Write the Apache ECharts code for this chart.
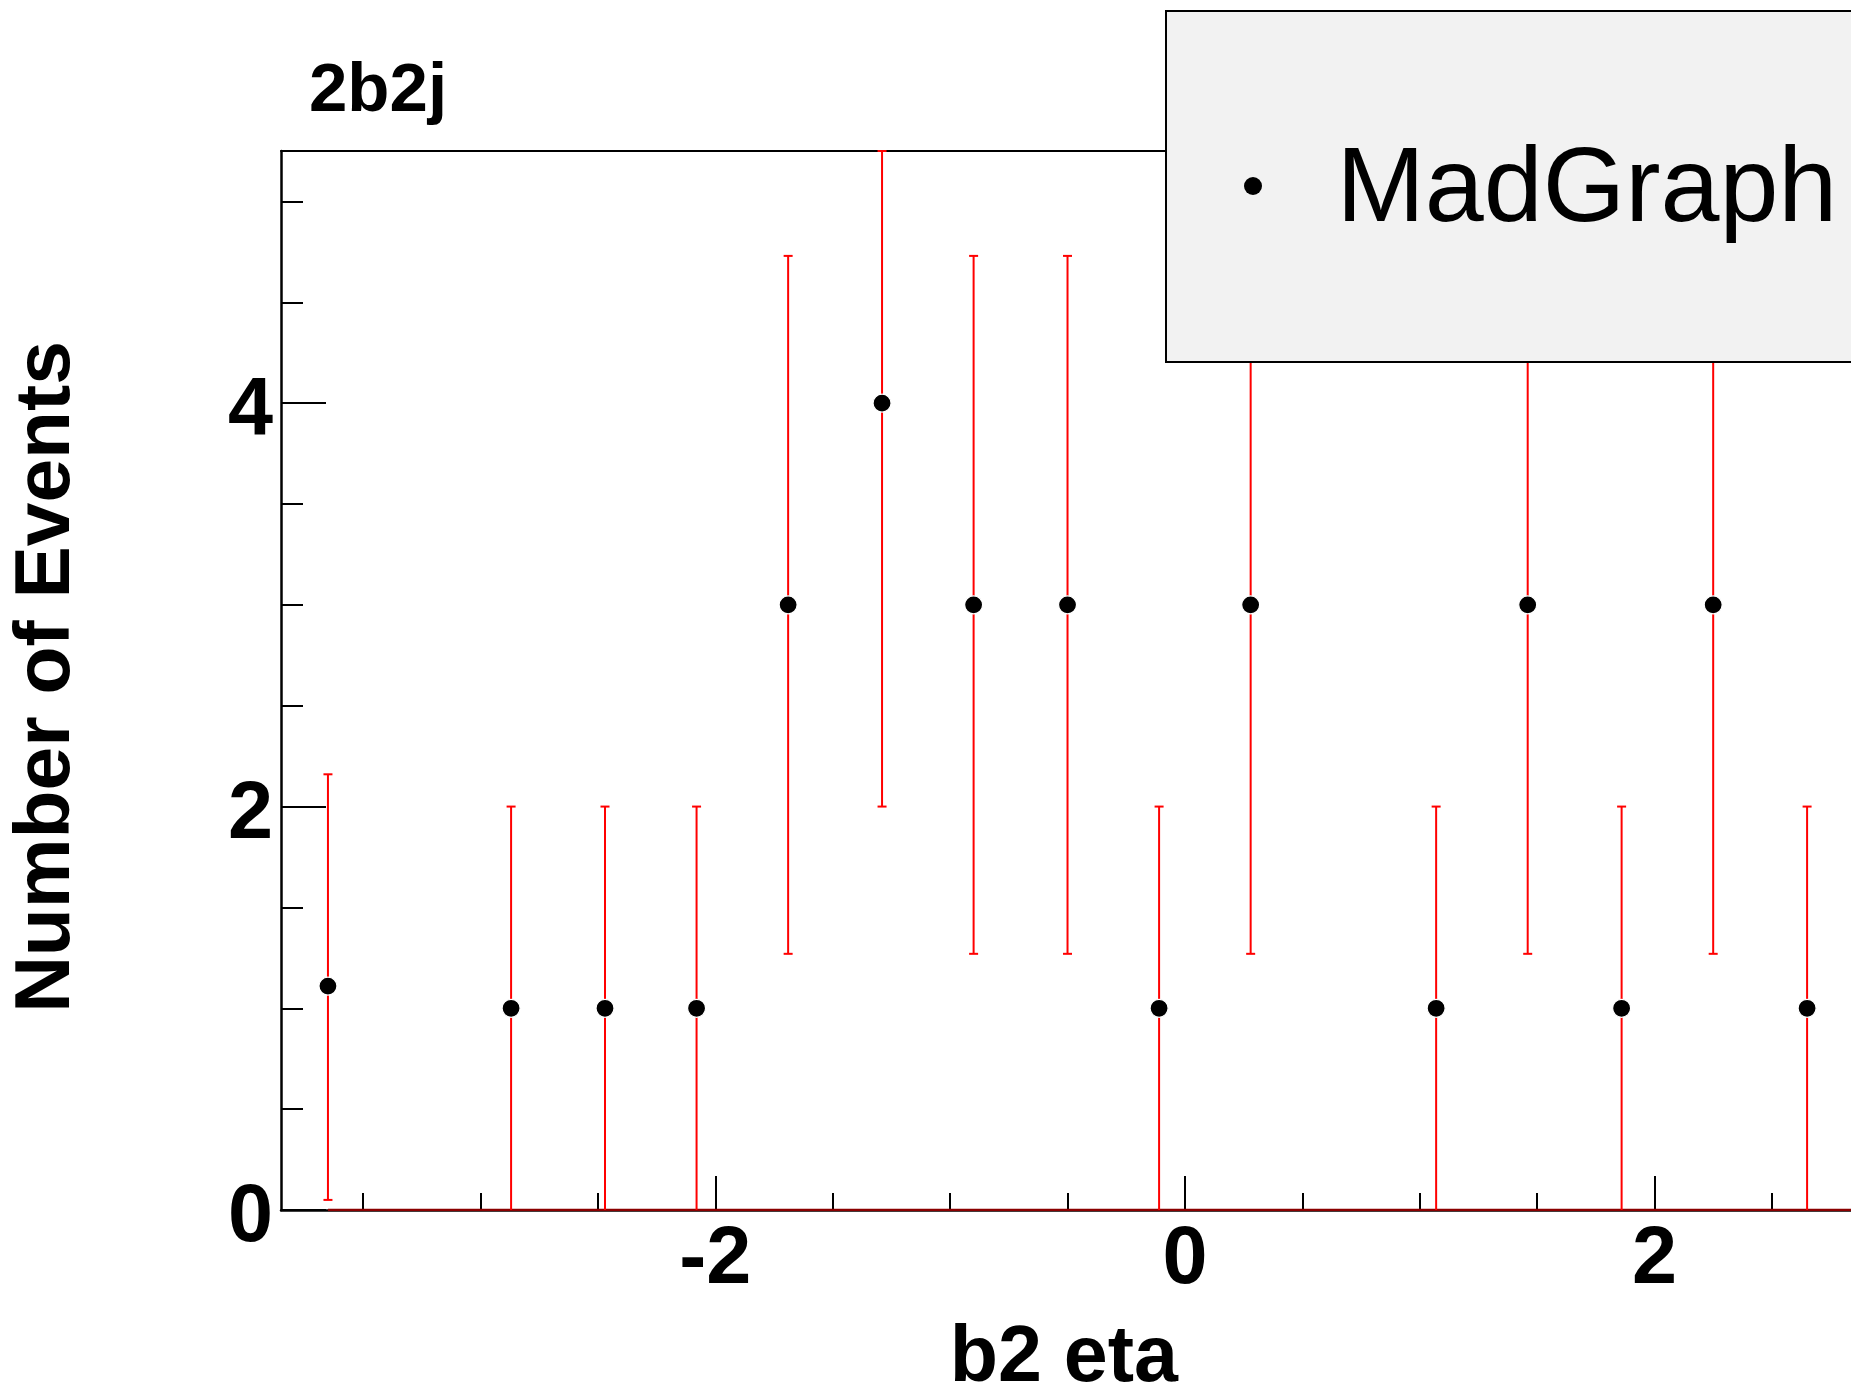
<!DOCTYPE html>
<html><head><meta charset="utf-8">
<script src="https://cdn.jsdelivr.net/npm/echarts@6/dist/echarts.min.js"></script>
<style>html,body{margin:0;padding:0;background:#fff}#c{width:1851px;height:1394px}</style>
</head><body><div id="c"></div>
<script>
// ---- data ----
const binCenters = [-3.65, -2.87, -2.47, -2.08, -1.69, -1.29, -0.90, -0.50, -0.11, 0.28, 1.07, 1.46, 1.86, 2.25, 2.65];
const eventCounts = [1.11, 1, 1, 1, 3, 4, 3, 3, 1, 3, 1, 3, 1, 3, 1];
const errLow  = [0.05, 0, 0, 0, 1.27, 2, 1.27, 1.27, 0, 1.27, 0, 1.27, 0, 1.27, 0];
const errHigh = [2.16, 2, 2, 2, 4.73, 6, 4.73, 4.73, 2, 4.73, 2, 4.73, 2, 4.73, 2];
const xRange = [-3.85, 2.837];
const yRange = [0, 5.25];
const xMajorTicks = [-2, 0, 2];
const xMinorTicks = [-3.5, -3, -2.5, -1.5, -1, -0.5, 0.5, 1, 1.5, 2.5];
const yMajorTicks = [0, 2, 4];
const yMinorTicks = [0.5, 1, 1.5, 2.5, 3, 3.5, 4.5, 5];
const seriesName = 'MadGraph';
const chartTitle = '2b2j';
const xTitle = 'b2 eta';
const yTitle = 'Number of Events';

const FONT = '"Liberation Sans", Arial, Helvetica, sans-serif';
const chart = echarts.init(document.getElementById('c'), null, {renderer: 'canvas'});

const pointData = binCenters.map((x, i) => [x, eventCounts[i]]);
const errData = binCenters.map((x, i) => [x, errLow[i], errHigh[i]]);
const zeroLine = [[binCenters[0], 0], [xRange[1], 0]];

// legend dot sits slightly above the text centre, as in the reference
const legendDot = 'path://M9 0A9 9 0 1 1 9 18A9 9 0 1 1 9 0ZM9 30';

const option = {
  animation: false,
  backgroundColor: '#fff',
  title: {
    text: chartTitle, left: 309, top: 57, padding: 0,
    textStyle: {fontSize: 69, fontWeight: 'bold', fontFamily: FONT, color: '#000', lineHeight: 69}
  },
  legend: {
    left: 1166, top: 11,
    data: [{name: seriesName, icon: legendDot}],
    itemWidth: 157, itemHeight: 30,
    padding: [121, 560, 110, 78],
    backgroundColor: '#f2f2f2', borderColor: '#000', borderWidth: 2, borderRadius: 0,
    textStyle: {fontSize: 106, fontFamily: FONT, color: '#000', lineHeight: 120},
    itemStyle: {borderWidth: 0, color: '#000', opacity: 1},
    selectedMode: false
  },
  grid: {
    left: 281, top: 151, right: 0, height: 1059,
    show: false, containLabel: false
  },
  xAxis: [
    {
      type: 'value', min: xRange[0], max: xRange[1], position: 'bottom',
      axisLine: {show: true, onZero: false, lineStyle: {color: '#000', width: 2.5}},
      axisTick: {show: true, inside: true, length: 34, customValues: xMajorTicks, lineStyle: {color: '#000', width: 2}},
      axisLabel: {show: true, customValues: xMajorTicks, margin: 10, fontSize: 81, fontWeight: 'bold', fontFamily: FONT, color: '#000'},
      splitLine: {show: false}
    },
    {
      type: 'value', min: xRange[0], max: xRange[1], position: 'bottom',
      axisLine: {show: false, onZero: false},
      axisTick: {show: true, inside: true, length: 17, customValues: xMinorTicks, lineStyle: {color: '#000', width: 2}},
      axisLabel: {show: false},
      splitLine: {show: false}
    },
    {
      type: 'value', min: xRange[0], max: xRange[1], position: 'top',
      axisLine: {show: true, onZero: false, lineStyle: {color: '#000', width: 2}},
      axisTick: {show: false}, axisLabel: {show: false}, splitLine: {show: false}
    }
  ],
  yAxis: [
    {
      type: 'value', min: yRange[0], max: yRange[1], position: 'left',
      axisLine: {show: true, onZero: false, lineStyle: {color: '#000', width: 2.5}},
      axisTick: {show: true, inside: true, length: 45, customValues: yMajorTicks, lineStyle: {color: '#000', width: 2}},
      axisLabel: {show: true, customValues: yMajorTicks, margin: 8, verticalAlign: 'top', lineHeight: 18, fontSize: 81, fontWeight: 'bold', fontFamily: FONT, color: '#000'},
      splitLine: {show: false}
    },
    {
      type: 'value', min: yRange[0], max: yRange[1], position: 'left',
      axisLine: {show: false, onZero: false},
      axisTick: {show: true, inside: true, length: 22, customValues: yMinorTicks, lineStyle: {color: '#000', width: 2}},
      axisLabel: {show: false},
      splitLine: {show: false}
    }
  ],
  graphic: [
    {
      type: 'text', x: 1178, y: 1359, silent: true,
      style: {text: xTitle, fill: '#000', font: 'bold 79px ' + FONT, textAlign: 'right', textVerticalAlign: 'middle'}
    },
    {
      type: 'text', x: 47, y: 677, rotation: Math.PI / 2, silent: true,
      style: {text: yTitle, fill: '#000', font: 'bold 78.5px ' + FONT, textAlign: 'center', textVerticalAlign: 'middle'}
    }
  ],
  series: [
    {
      type: 'line', name: 'zero', data: zeroLine, xAxisIndex: 0, yAxisIndex: 0,
      showSymbol: false, silent: true, z: 1,
      lineStyle: {color: '#8b0000', width: 2.5}
    },
    {
      type: 'custom', name: 'err', data: errData, xAxisIndex: 0, yAxisIndex: 0, silent: true, z: 2,
      encode: {x: 0, y: [1, 2]},
      renderItem: function (params, api) {
        const x = api.value(0), lo = api.value(1), hi = api.value(2);
        const cs = params.coordSys;
        const pLo = api.coord([x, lo]);
        const pHi = api.coord([x, hi]);
        const yTop = Math.max(pHi[1], cs.y);
        const yBot = Math.min(pLo[1], cs.y + cs.height);
        const half = 4.5;
        const st = {stroke: '#ff0000', lineWidth: 2};
        const ch = [
          {type: 'line', shape: {x1: pLo[0], y1: yBot, x2: pLo[0], y2: yTop}, style: st},
          {type: 'line', shape: {x1: pLo[0] - half, y1: yTop, x2: pLo[0] + half, y2: yTop}, style: st}
        ];
        if (lo > 0) ch.push({type: 'line', shape: {x1: pLo[0] - half, y1: yBot, x2: pLo[0] + half, y2: yBot}, style: st});
        return {type: 'group', children: ch};
      }
    },
    {
      type: 'scatter', name: seriesName, data: pointData, xAxisIndex: 0, yAxisIndex: 0, z: 3,
      symbol: 'circle', symbolSize: 18,
      itemStyle: {color: '#000', borderColor: '#fff', borderWidth: 1.2, opacity: 1}
    }
  ]
};
chart.setOption(option);
</script>
</body></html>
